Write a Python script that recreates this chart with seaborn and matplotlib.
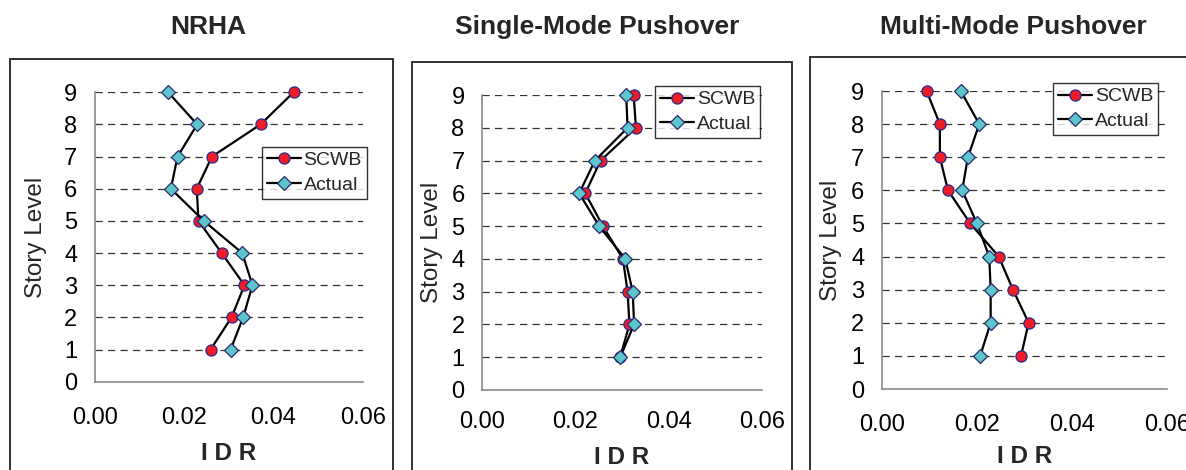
import matplotlib
matplotlib.use("Agg")
import matplotlib.pyplot as plt
from matplotlib.patches import Rectangle
from matplotlib.lines import Line2D
import seaborn as sns
import pandas as pd

sns.set_theme(style="white")
plt.rcParams["font.family"] = ["Liberation Sans", "DejaVu Sans"]

stories = [1, 2, 3, 4, 5, 6, 7, 8, 9]

nrha_scwb = [0.0259, 0.0306, 0.0335, 0.0284, 0.0232, 0.0228, 0.0262, 0.0371, 0.0445]
nrha_actual = [0.0304, 0.0332, 0.0353, 0.0330, 0.0244, 0.0170, 0.0185, 0.0229, 0.0164]

smp_scwb = [0.0296, 0.0316, 0.0312, 0.0302, 0.0259, 0.0221, 0.0254, 0.0330, 0.0325]
smp_actual = [0.0296, 0.0326, 0.0323, 0.0307, 0.0251, 0.0208, 0.0242, 0.0312, 0.0309]

mmp_scwb = [0.0293, 0.0309, 0.0276, 0.0246, 0.0186, 0.0139, 0.0122, 0.0122, 0.0094]
mmp_actual = [0.0207, 0.0229, 0.0229, 0.0226, 0.0200, 0.0169, 0.0181, 0.0205, 0.0166]

titles = ["NRHA", "Single-Mode Pushover", "Multi-Mode Pushover"]
series_names = ["SCWB", "Actual"]
x_ticks = [0.00, 0.02, 0.04, 0.06]
y_ticks = list(range(0, 10))

W, H = 1186, 470
fig = plt.figure(figsize=(W / 100, H / 100), dpi=100)
fig.patch.set_facecolor("white")


def fx(px):
    return px / W


def fy(py):
    return 1 - py / H


# plot boxes in pixels: left, right, top (y=9), bottom (y=0)
axes_px = [
    (95, 362.7, 92.3, 381.7),
    (482.3, 761.7, 95, 390),
    (882, 1166.7, 91, 389),
]
# chart-area frames: left, right, top
frames_px = [(10, 393, 59.3), (411.7, 792, 61.5), (810, 1200, 56.7)]
# legend upper-left corners
legend_px = [(261.7, 146.7), (655, 86), (1053, 83)]
title_px = [(208, 27), (597, 27), (1013, 27)]
# x-label top, y-label right edge (pixels)
xlabel_top = [442, 446, 445]
ylabel_right = [47, 443, 842]
xtick_pad = [14.2, 11.2, 14.2]

circle_style = dict(marker="o", markersize=8, markerfacecolor="#EE1C25",
                    markeredgecolor="#2B2B8C", markeredgewidth=0.9)
diamond_style = dict(marker="D", markersize=7.2, markerfacecolor="#5CC6CC",
                     markeredgecolor="#2B2B6C", markeredgewidth=0.9)
line_w = 1.6

for fl, fr, ft in frames_px:
    fig.patches.append(Rectangle((fx(fl), fy(H + 20)), fx(fr - fl), (H + 20 - ft) / H,
                                 transform=fig.transFigure, fill=False,
                                 edgecolor="#222222", linewidth=1.3, zorder=0))

panels = [(nrha_scwb, nrha_actual), (smp_scwb, smp_actual), (mmp_scwb, mmp_actual)]

for i, (scwb, actual) in enumerate(panels):
    l, r, t, b = axes_px[i]
    ax = fig.add_axes([fx(l), fy(b), fx(r - l), (b - t) / H])
    ax.set_facecolor("none")

    df = pd.DataFrame({
        "IDR": scwb + actual,
        "Story": stories + stories,
        "Series": [series_names[0]] * 9 + [series_names[1]] * 9,
    })

    sns.lineplot(data=df[df.Series == "SCWB"], x="IDR", y="Story", sort=False,
                 orient="y", estimator=None, color="black", linewidth=line_w,
                 clip_on=False, ax=ax, legend=False, zorder=3, **circle_style)
    sns.lineplot(data=df[df.Series == "Actual"], x="IDR", y="Story", sort=False,
                 orient="y", estimator=None, color="black", linewidth=line_w,
                 clip_on=False, ax=ax, legend=False, zorder=4, **diamond_style)

    ax.set_xlim(0, 0.06)
    ax.set_ylim(0, 9)
    ax.set_xticks(x_ticks)
    ax.set_xticklabels([f"{v:.2f}" for v in x_ticks])
    ax.set_yticks(y_ticks)

    for yv in stories:
        ax.axhline(yv, color="#333333", linewidth=0.9, linestyle=(0, (5.8, 4.2)), zorder=1)

    for side in ["top", "right"]:
        ax.spines[side].set_visible(False)
    for side in ["left", "bottom"]:
        ax.spines[side].set_color("#808080")
        ax.spines[side].set_linewidth(1.1)

    ax.tick_params(axis="both", which="major", labelsize=17, colors="#808080",
                   labelcolor="black", width=1.1)
    ax.tick_params(axis="x", direction="out", length=4, pad=xtick_pad[i])
    ax.tick_params(axis="y", direction="inout", length=9.6, pad=8)

    ax.set_xlabel("I D R", fontsize=17.5, fontweight="bold")
    ax.set_ylabel("Story Level", fontsize=17.5)
    ax.xaxis.set_label_coords(0.5, (b - xlabel_top[i]) / (b - t))
    ax.yaxis.set_label_coords((ylabel_right[i] - l) / (r - l), 0.5)

    handles = [
        Line2D([], [], color="black", linewidth=line_w, **circle_style),
        Line2D([], [], color="black", linewidth=line_w, **diamond_style),
    ]
    lx, ly = legend_px[i]
    leg = ax.legend(handles, series_names, loc="upper left",
                    bbox_to_anchor=(fx(lx), fy(ly)), bbox_transform=fig.transFigure,
                    borderaxespad=0, fontsize=14, frameon=True, fancybox=False,
                    handlelength=1.75, handletextpad=0.15, borderpad=0.25,
                    labelspacing=0.37)
    leg.get_frame().set_edgecolor("black")
    leg.get_frame().set_linewidth(1.0)
    leg.set_zorder(5)

    tx, ty = title_px[i]
    fig.text(fx(tx), fy(ty), titles[i], ha="center", va="center",
             fontsize=19, fontweight="bold")

fig.savefig("out.png", dpi=100, facecolor="white")
